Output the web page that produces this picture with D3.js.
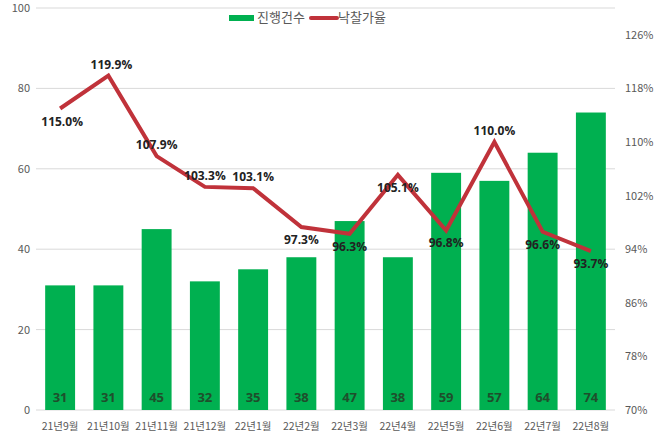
<!DOCTYPE html>
<html><head><meta charset="utf-8">
<script src="https://cdn.jsdelivr.net/npm/d3@7/dist/d3.min.js"></script>
<style>body{margin:0;background:#fff;}svg{display:block;}</style>
</head><body>
<svg id="c" width="658" height="435"></svg>
<script>
const categories = ["21년9월","21년10월","21년11월","21년12월","22년1월","22년2월","22년3월","22년4월","22년5월","22년6월","22년7월","22년8월"];
const counts = [31,31,45,32,35,38,47,38,59,57,64,74];
const rates = [115.0,119.9,107.9,103.3,103.1,97.3,96.3,105.1,96.8,110.0,96.6,93.7];
const leftTicks = [0,20,40,60,80,100];
const rightTicks = [70,78,86,94,102,110,118,126];
const labelSide = ["below","above","above","above","above","below","below","below","below","above","below","below"];

const svg = d3.select("#c");
const m = {l:36, r:615, t:8, b:410};
const font = "'Noto Sans CJK KR','Noto Sans',sans-serif";

const x = d3.scaleBand().domain(categories).range([m.l, m.r]).paddingInner(0.38).paddingOuter(0.19);
const y = d3.scaleLinear().domain([0,100]).range([m.b, m.t]);
const y2 = d3.scaleLinear().domain([70,130]).range([m.b, m.t]);

// gridlines
svg.append("g").selectAll("line").data(leftTicks).join("line")
  .attr("x1", m.l).attr("x2", m.r).attr("y1", d=>y(d)).attr("y2", d=>y(d))
  .attr("stroke", "#d9d9d9").attr("stroke-width", 1);

// left axis
const la = svg.append("g").attr("transform", `translate(${m.l},0)`)
  .call(d3.axisLeft(y).tickValues(leftTicks).tickSize(0).tickPadding(6));
la.select(".domain").remove();
la.selectAll("text").attr("fill","#595959").style("font-family",font).style("font-size","11px");

// right axis
const ra = svg.append("g").attr("transform", `translate(${m.r},0)`)
  .call(d3.axisRight(y2).tickValues(rightTicks).tickSize(0).tickPadding(10).tickFormat(d=>d+"%"));
ra.select(".domain").remove();
ra.selectAll("text").attr("fill","#595959").style("font-family",font).style("font-size","11px");

// bottom axis
const ba = svg.append("g").attr("transform", `translate(0,${m.b})`)
  .call(d3.axisBottom(x).tickSize(0).tickPadding(13));
ba.select(".domain").remove();
ba.selectAll("text").attr("fill","#595959").style("font-family",font).style("font-size","10.5px");

// bars
svg.append("g").selectAll("rect").data(counts).join("rect")
  .attr("x",(d,i)=>x(categories[i])).attr("width",x.bandwidth())
  .attr("y",d=>y(d)).attr("height",d=>y(0)-y(d)).attr("fill","#00b050");

svg.append("g").selectAll("text").data(counts).join("text")
  .attr("x",(d,i)=>x(categories[i])+x.bandwidth()/2).attr("y", y(0)-8)
  .attr("text-anchor","middle").attr("fill","#1f4e2c")
  .style("font-family","'Open Sans','Noto Sans',sans-serif").style("font-size","13px").style("font-weight","bold")
  .text(d=>d);

// line
const line = d3.line().x((d,i)=>x(categories[i])+x.bandwidth()/2).y(d=>y2(d));
svg.append("path").datum(rates).attr("d",line).attr("fill","none")
  .attr("stroke","#c0323a").attr("stroke-width",4).attr("stroke-linejoin","miter");

svg.append("g").selectAll("text").data(rates).join("text")
  .attr("x",(d,i)=>x(categories[i])+x.bandwidth()/2 + (i===0?2:(i===1?3:0)))
  .attr("y",(d,i)=>labelSide[i]==="above" ? y2(d)-7 : y2(d)+17)
  .attr("text-anchor","middle").attr("fill","#222")
  .style("font-family","'Open Sans','Noto Sans',sans-serif").style("font-size","12px").style("font-weight","bold")
  .text(d=>d.toFixed(1)+"%");

// legend
const lg = svg.append("g");
lg.append("rect").attr("x",229).attr("y",15).attr("width",25).attr("height",6).attr("fill","#00b050");
lg.append("text").attr("x",257).attr("y",22).text("진행건수")
  .attr("fill","#595959").style("font-family",font).style("font-size","13px");
lg.append("line").attr("x1",311).attr("x2",337).attr("y1",18).attr("y2",18)
  .attr("stroke","#c0323a").attr("stroke-width",4).attr("stroke-linecap","round");
lg.append("text").attr("x",338).attr("y",22).text("낙찰가율")
  .attr("fill","#595959").style("font-family",font).style("font-size","13px");
</script>
</body></html>
